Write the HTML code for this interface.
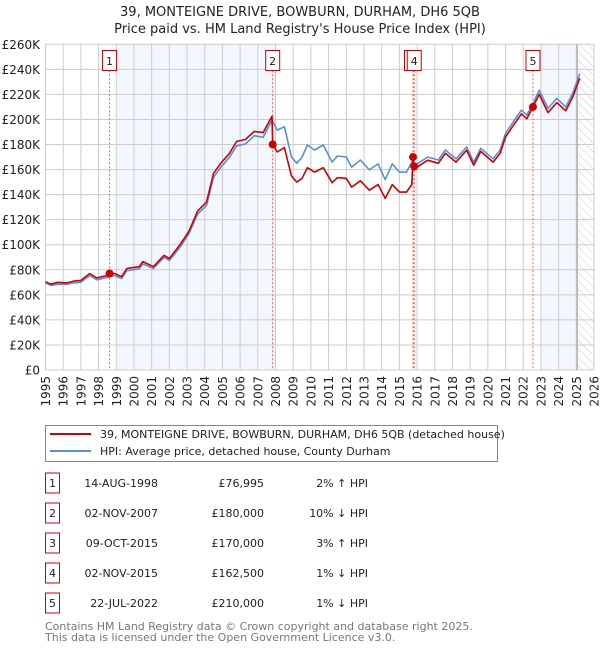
<!DOCTYPE html>
<html><head><meta charset="utf-8">
<style>
body{margin:0;background:#fff;width:600px;height:650px;overflow:hidden;font-family:"DejaVu Sans","Liberation Sans",sans-serif;}
svg text{font-family:"DejaVu Sans","Liberation Sans",sans-serif;}
</style></head>
<body>
<svg id="chart" width="600" height="650" viewBox="0 0 600 650" xmlns="http://www.w3.org/2000/svg">
<defs>
<pattern id="hatch" patternUnits="userSpaceOnUse" width="6" height="6" patternTransform="rotate(-45)">
<line x1="0" y1="0" x2="0" y2="6" stroke="#ccc" stroke-width="1"/>
</pattern>
</defs>
<text x="300" y="16" text-anchor="middle" font-size="13" fill="#222">39, MONTEIGNE DRIVE, BOWBURN, DURHAM, DH6 5QB</text>
<text x="300" y="33" text-anchor="middle" font-size="13" fill="#222">Price paid vs. HM Land Registry's House Price Index (HPI)</text>
<g id="bg"></g>
<g id="grid"></g>
<g id="vlines"></g>
<g id="series"></g>
<g id="markers"></g>
<g id="axes"></g>

<g>
<rect x="45.5" y="425.5" width="452" height="36" fill="#fff" stroke="#888"/>
<line x1="50" y1="434" x2="91" y2="434" stroke="#cc0000" stroke-width="2"/>
<text x="100" y="438" font-size="11" fill="#222">39, MONTEIGNE DRIVE, BOWBURN, DURHAM, DH6 5QB (detached house)</text>
<line x1="50" y1="451" x2="91" y2="451" stroke="#5b8fd4" stroke-width="2"/>
<text x="100" y="455" font-size="11" fill="#222">HPI: Average price, detached house, County Durham</text>
</g>
<g id="table"></g>
<text x="45" y="630" font-size="11" fill="#777">Contains HM Land Registry data © Crown copyright and database right 2025.</text>
<text x="45" y="641" font-size="11" fill="#777">This data is licensed under the Open Government Licence v3.0.</text>
</svg>
<script>
const hpiYears=[1995.0,1995.3,1995.7,1996.2,1996.6,1997.0,1997.5,1997.9,1998.5,1998.9,1999.3,1999.6,2000.3,2000.5,2001.1,2001.7,2002.0,2002.6,2003.1,2003.6,2004.1,2004.5,2004.9,2005.4,2005.8,2006.3,2006.8,2007.3,2007.8,2008.1,2008.5,2008.9,2009.2,2009.5,2009.8,2010.2,2010.7,2011.2,2011.5,2012.0,2012.3,2012.8,2013.3,2013.8,2014.2,2014.6,2015.0,2015.4,2015.7,2016.0,2016.6,2017.2,2017.6,2018.2,2018.8,2019.2,2019.6,2020.3,2020.7,2021.0,2021.5,2021.9,2022.2,2022.6,2022.9,2023.4,2023.9,2024.4,2024.8,2025.2];
const hpiValues=[69.5,67.5,68.5,68.3,69.5,70,75.4,72,74,75.4,73,79.3,80.8,84.8,81,90,87.4,98,108.6,124.6,131.3,153.9,161.8,169.8,179,180.4,187,185.7,199.5,191.5,194.2,170.3,165,170,179.6,175.6,179.6,166,170.8,170,162,167.6,159.7,164.5,152,164.5,158,158,166,164.5,170,167.6,175.6,168.6,178,166,177,168.6,175.6,188.9,199.5,207.5,203.5,214,223.4,208.8,216.8,210,221,236.7];
const priceYears=[1995.0,1995.3,1995.7,1996.2,1996.6,1997.0,1997.5,1997.9,1998.5,1998.62,1998.9,1999.3,1999.6,2000.3,2000.5,2001.1,2001.7,2002.0,2002.6,2003.1,2003.6,2004.1,2004.5,2004.9,2005.4,2005.8,2006.3,2006.8,2007.3,2007.8,2007.84,2008.1,2008.5,2008.9,2009.2,2009.5,2009.8,2010.2,2010.7,2011.2,2011.5,2012.0,2012.3,2012.8,2013.3,2013.8,2014.2,2014.6,2015.0,2015.4,2015.7,2015.77,2015.84,2016.0,2016.6,2017.2,2017.6,2018.2,2018.8,2019.2,2019.6,2020.3,2020.7,2021.0,2021.5,2021.9,2022.2,2022.55,2022.9,2023.4,2023.9,2024.4,2024.8,2025.2];
const priceValues=[70.5,68.5,70,69.5,71,71.5,77,73.5,75.5,77,77,74.5,81,82.5,86.5,82.5,91.5,89,100,110.5,127,134,157,165,173,182.5,184,190.5,189.5,202.5,180,174,177.5,155,150,153,161.5,158,161.5,149.5,153.5,153,146,151,143.5,148,137,148,142,142,148,170,162.5,162,167.5,165,173,166,175.5,163.5,174.5,166,173,186,196.5,204.5,200.5,210,220,205.5,213.5,207,218,233];
const saleLabels=["1","2","3","4","5"];
const saleYears=[1998.62,2007.84,2015.77,2015.84,2022.55];
const saleValues=[76.995,180,170,162.5,210];
const saleDates=["14-AUG-1998","02-NOV-2007","09-OCT-2015","02-NOV-2015","22-JUL-2022"];
const salePrices=["£76,995","£180,000","£170,000","£162,500","£210,000"];
const saleDiffs=["2% ↑ HPI","10% ↓ HPI","3% ↑ HPI","1% ↓ HPI","1% ↓ HPI"];
const yTicks=[0,20,40,60,80,100,120,140,160,180,200,220,240,260];
const xTicks=[1995,1996,1997,1998,1999,2000,2001,2002,2003,2004,2005,2006,2007,2008,2009,2010,2011,2012,2013,2014,2015,2016,2017,2018,2019,2020,2021,2022,2023,2024,2025,2026];

const NS="http://www.w3.org/2000/svg";
const X0=45.5,X1=594,Y0=370,Y1=44.3;
const xs=y=>X0+(y-1995)/(2026-1995)*(X1-X0);
const ys=v=>Y0-v/260*(Y0-Y1);
function mk(tag,attrs,parent){const e=document.createElementNS(NS,tag);for(const k in attrs)e.setAttribute(k,attrs[k]);parent.appendChild(e);return e;}
const bg=document.getElementById('bg'),grid=document.getElementById('grid'),vl=document.getElementById('vlines'),ser=document.getElementById('series'),mkr=document.getElementById('markers'),ax=document.getElementById('axes'),tb=document.getElementById('table');

let r=mk('rect',{x:xs(1999),y:Y1,width:xs(2008)-xs(1999),height:Y0-Y1,fill:'#f2f6fd'},bg);


r=mk('rect',{x:xs(2023),y:Y1,width:xs(2025)-xs(2023),height:Y0-Y1,fill:'#f2f6fd'},bg);


r=mk('rect',{x:xs(2025.05),y:Y1,width:X1-xs(2025.05),height:Y0-Y1,fill:'url(#hatch)'},bg);



yTicks.forEach(v=>{
 const l=mk('line',{x1:X0,x2:X1,y1:ys(v),y2:ys(v),stroke:'#ccc','stroke-width':1},grid);
 
 
 const t=mk('text',{x:40,y:ys(v)+4.5,'text-anchor':'end','font-size':12,fill:'#222'},ax);
 t.textContent=v===0?'£0':'£'+v+'K';
 
 
});
xTicks.forEach(yr=>{
 const l=mk('line',{x1:xs(yr),x2:xs(yr),y1:Y1,y2:Y0,stroke:'#ccc','stroke-width':1},grid);
 
 
 const t=mk('text',{x:0,y:0,'text-anchor':'end','font-size':12,fill:'#222',transform:`translate(${xs(yr)+4.5},${Y0+6}) rotate(-90)`},ax);
 t.textContent=yr;
 
 
});
let el=mk('line',{x1:xs(2025.05),x2:xs(2025.05),y1:Y1,y2:Y0,stroke:'#999','stroke-width':1},grid);



saleYears.forEach((yr,i)=>{
 const l=mk('line',{x1:xs(yr),x2:xs(yr),y1:Y1+26,y2:Y0,stroke:'#f55','stroke-width':1,'stroke-dasharray':'2,2'},vl);
 
 
});
saleYears.forEach((yr,i)=>{
 const bx=xs(yr)-(i===2?8.5:7);
 const g=mk('g',{},vl);
 
 
 mk('rect',{x:bx,y:50.5,width:14,height:20,fill:'#fff',stroke:'#cc0000','stroke-width':1},g);
 const t=mk('text',{x:bx+7,y:65,'text-anchor':'middle','font-size':11,fill:'#222'},g);
 t.textContent=saleLabels[i];
});

function path(xv,yv,color,name){
 let d='';xv.forEach((x,i)=>{d+=(i?'L':'M')+xs(x).toFixed(1)+','+ys(yv[i]).toFixed(1);});
 const p=mk('path',{d:d,fill:'none',stroke:color,'stroke-width':1.6,'stroke-linejoin':'round'},ser);
 
 
}
path(hpiYears,hpiValues,'#5b8fd4','hpi-line');
path(priceYears,priceValues,'#cc0000','price-paid-line');

saleYears.forEach((yr,i)=>{
 const c=mk('circle',{cx:xs(yr),cy:ys(saleValues[i]),r:4,fill:'#cc0000'},mkr);
 
 
});

saleLabels.forEach((lb,i)=>{
 const cy=483+i*30;
 const g=mk('g',{},tb);
 
 
 mk('rect',{x:45.5,y:cy-10,width:14,height:20,fill:'#fff',stroke:'#cc0000','stroke-width':1},g);
 let t=mk('text',{x:52.5,y:cy+4,'text-anchor':'middle','font-size':11,fill:'#222'},g);t.textContent=lb;
 t=mk('text',{x:158,y:cy+4,'text-anchor':'end','font-size':11,fill:'#222'},g);t.textContent=saleDates[i];
 t=mk('text',{x:264,y:cy+4,'text-anchor':'end','font-size':11,fill:'#222'},g);t.textContent=salePrices[i];
 t=mk('text',{x:368,y:cy+4,'text-anchor':'end','font-size':11,fill:'#222'},g);t.textContent=saleDiffs[i];
});
</script>
</body></html>
